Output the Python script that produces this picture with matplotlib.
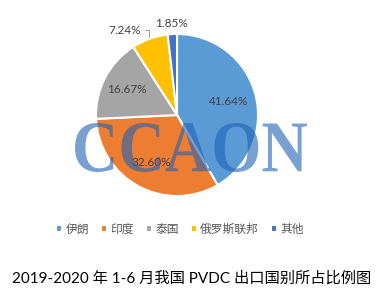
import numpy as np
import matplotlib.pyplot as plt
from matplotlib.textpath import TextPath
from matplotlib.patches import PathPatch
from matplotlib.font_manager import FontProperties
from matplotlib.transforms import Affine2D

# 数据
countries = ['伊朗', '印度', '泰国', '俄罗斯联邦', '其他']
shares = [41.64, 32.60, 16.67, 7.24, 1.85]
colors = ['#5B9BD5', '#ED7D31', '#A5A5A5', '#FFC000', '#4472C4']
title = '2019-2020 年 1-6 月我国 PVDC 出口国别所占比例图'

plt.rcParams['font.family'] = ['Lato', 'Noto Sans CJK SC', 'DejaVu Sans']

fig = plt.figure(figsize=(3.83, 2.99), dpi=100)
ax = fig.add_axes([0.2507, 0.3445, 0.423, 0.5418])

wedges, _ = ax.pie(shares, colors=colors, startangle=90, counterclock=False,
                   wedgeprops=dict(edgecolor='white', linewidth=1.5))
ax.set_xlim(-1, 1)
ax.set_ylim(-1, 1)
ax.set_aspect('equal')

# 数据标签
label_r = [0.66, 0.67, 0.70, None, 1.13]
for w, v, r in zip(wedges, shares, label_r):
    mid = np.deg2rad((w.theta1 + w.theta2) / 2)
    txt = f'{v:.2f}%'
    if r is None:
        # 带引导线的标签
        x0, y0 = 1.02 * np.cos(mid), 1.02 * np.sin(mid)
        ax.annotate(txt, xy=(x0, y0), xytext=(-6, 5), textcoords='offset points',
                    ha='right', va='center', fontsize=8.5, color='#404040',
                    arrowprops=dict(arrowstyle='-', color='#A5A5A5', lw=0.8,
                                    connectionstyle='angle,angleA=0,angleB=90,rad=0',
                                    shrinkA=1, shrinkB=0))
    else:
        ax.text(r * np.cos(mid), r * np.sin(mid), txt, ha='center', va='center',
                fontsize=8.5, color='#404040')

# 水印 (拉伸后的衬线字)
tp = TextPath((0, 0), 'CCAON', size=1,
              prop=FontProperties(family='Liberation Serif', weight='bold'))
ext = tp.get_extents()
x0f, x1f = 75 / 383, 307 / 383
y0f, y1f = (299 - 172) / 299, (299 - 123) / 299
tr = (Affine2D().translate(-ext.x0, -ext.y0)
      .scale((x1f - x0f) / ext.width, (y1f - y0f) / ext.height)
      .translate(x0f, y0f))
wm = PathPatch(tr.transform_path(tp), transform=fig.transFigure,
               facecolor='#1E61B4', edgecolor='none', alpha=0.6)
fig.patches.append(wm)

# 图例
leg = fig.legend(wedges, countries, loc='center', bbox_to_anchor=(0.47, 0.234), ncol=5,
                 frameon=False, fontsize=8.5, handlelength=0.5, handleheight=0.5,
                 handletextpad=0.3, columnspacing=1.0)
for t in leg.get_texts():
    t.set_color('#595959')
    t.set_family(['Noto Sans CJK SC'])

fig.text(0.5, 0.07, title, ha='center', va='center', fontsize=11, color='black')

fig.savefig('out.png', dpi=100)
